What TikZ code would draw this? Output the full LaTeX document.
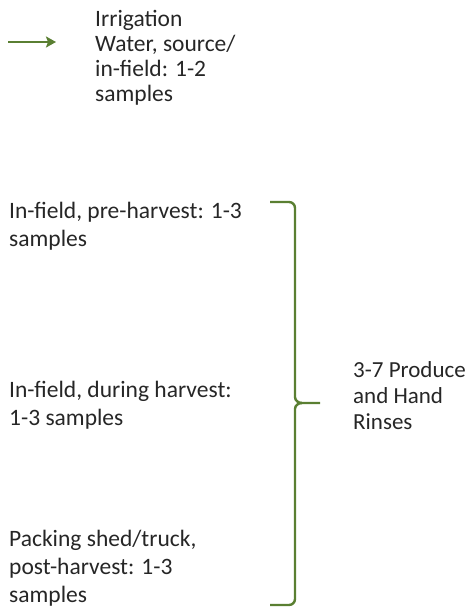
\documentclass[tikz,border=0pt]{standalone}
\usepackage{fontspec}
\setmainfont{Carlito}
\usetikzlibrary{arrows.meta}
\definecolor{leaf}{HTML}{5A7F32}
\definecolor{ink}{HTML}{262626}
\tikzset{
  label text/.style={anchor=north west, inner sep=0pt, align=left, text=ink,
    font=\fontsize{23.5}{28}\selectfont},
  green line/.style={draw=leaf, line width=2.4pt},
}
\begin{document}
\begin{tikzpicture}[x=1pt,y=-1pt]
  \useasboundingbox (0,0) rectangle (476,608);

  % irrigation water arrow and its label
  \node[label text, font=\fontsize{23.5}{25}\selectfont] (water) at (95,10) {Irrigation\\Water, source/\\in-field: 1-2\\samples};
  \coordinate (arrowstart) at (8,42);
  \coordinate (arrowend) at (56,42);
  \draw[green line, -{Stealth[length=10pt,width=11pt,inset=2pt]}] (arrowstart) -- (arrowend);

  % sampling stages
  \node[label text] (pre) at (9,202) {In-field, pre-harvest: 1-3\\samples};
  \node[label text] (during) at (9,381) {In-field, during harvest:\\1-3 samples};
  \node[label text] (post) at (9,530) {Packing shed/truck,\\post-harvest: 1-3\\samples};

  % total
  \node[label text, font=\fontsize{23}{26}\selectfont] (total) at (353,361) {3-7 Produce\\and Hand\\Rinses};

  % brace grouping the three stages
  \draw[green line] (270,202) -- (289,202) to[out=0,in=90] (295,208)
    -- (295,397) to[out=-90,in=180] (302,403) -- (320,403);
  \draw[green line] (302,403) to[out=180,in=90] (295,409)
    -- (295,599) to[out=-90,in=0] (289,605) -- (270,605);
\end{tikzpicture}
\end{document}
